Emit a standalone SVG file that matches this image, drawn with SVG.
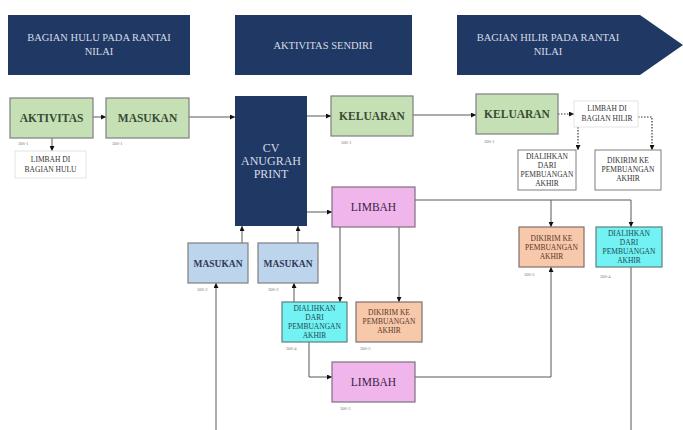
<svg xmlns="http://www.w3.org/2000/svg" width="683" height="430" viewBox="0 0 683 430">
<defs>
<marker id="ah" viewBox="0 0 10 10" refX="10" refY="5" markerWidth="5" markerHeight="5" orient="auto-start-reverse" markerUnits="userSpaceOnUse">
<path d="M0,0 L10,5 L0,10 z" fill="#111"/>
</marker>
</defs>
<style>
text{font-family:"Liberation Serif","Times New Roman",serif;text-anchor:middle}
.ban{fill:#203864}
.bt{fill:#D6DCE5;font-size:10.5px}
.green{fill:#C5E0B4;stroke:#7F7F7F;stroke-width:1.2}
.gt{fill:#3A4A34;font-size:11.5px;font-weight:bold}
.pink{fill:#F0B5EA;stroke:#7F6F7F;stroke-width:1.2}
.pt{fill:#3A1F45;font-size:11.5px}
.blue{fill:#BCD4EC;stroke:#7F7F7F;stroke-width:1.2}
.blt{fill:#2F3A55;font-size:9.5px;font-weight:bold}
.cyan{fill:#72F2F2;stroke:#5F7F7F;stroke-width:1.2}
.ct{fill:#1F4A55;font-size:7.5px}
.peach{fill:#F7C8A9;stroke:#7F6F6F;stroke-width:1.2}
.ot{fill:#5A3A2A;font-size:7.5px}
.wf{fill:#fff;stroke:#E4E4E4;stroke-width:1}
.wb{fill:#fff;stroke:#7F7F7F;stroke-width:1}
.wt{fill:#333;font-size:7.5px}
.lbl{fill:#777;font-size:4.5px;text-anchor:start}
.cv{fill:#D6DCE5;font-size:12px}
.ln{fill:none;stroke:#595959;stroke-width:1}
.dot{fill:none;stroke:#333;stroke-width:1.2;stroke-dasharray:1.5 1.5}
</style>

<g id="banner-hulu">
<rect class="ban" x="8" y="15" width="182" height="60"/>
<text class="bt" x="99" y="41">BAGIAN HULU PADA RANTAI</text>
<text class="bt" x="99" y="55">NILAI</text>
</g>
<g id="banner-sendiri">
<rect class="ban" x="235" y="15" width="177" height="60"/>
<text class="bt" x="323" y="49">AKTIVITAS SENDIRI</text>
</g>
<g id="banner-hilir">
<path class="ban" d="M457,15 H640 L683,45 L640,75 H457 z"/>
<text class="bt" x="548" y="41">BAGIAN HILIR PADA RANTAI</text>
<text class="bt" x="548" y="55">NILAI</text>
</g>

<g id="connectors">
<path class="ln" d="M93,117 H106" marker-end="url(#ah)"/>
<path class="ln" d="M189,117 H235" marker-end="url(#ah)"/>
<path class="ln" d="M52,138 V151" marker-end="url(#ah)"/>
<path class="ln" d="M307,116 H331" marker-end="url(#ah)"/>
<path class="ln" d="M413,115 H476" marker-end="url(#ah)"/>
<path class="ln" d="M307,212 H332" marker-end="url(#ah)"/>
<path class="ln" d="M242,243 V226" marker-end="url(#ah)"/>
<path class="ln" d="M298,243 V226" marker-end="url(#ah)"/>
<path class="ln" d="M216,430 V283" marker-end="url(#ah)"/>
<path class="ln" d="M294,302 V283" marker-end="url(#ah)"/>
<path class="ln" d="M340,227 V302" marker-end="url(#ah)"/>
<path class="ln" d="M399,227 V302" marker-end="url(#ah)"/>
<path class="ln" d="M309,342 V377 H332" marker-end="url(#ah)"/>
<path class="ln" d="M415,200 H631 V227" marker-end="url(#ah)"/>
<path class="ln" d="M551,200 V227" marker-end="url(#ah)"/>
<path class="ln" d="M415,377 H551 V267" marker-end="url(#ah)"/>
<path class="ln" d="M631,267 V430"/>
<path class="dot" d="M558,114 H574" marker-end="url(#ah)"/>
<path class="dot" d="M578,118 V150" marker-end="url(#ah)"/>
<path class="dot" d="M638,117 H652 V150" marker-end="url(#ah)"/>
</g>

<g id="aktivitas">
<rect class="green" x="10" y="98" width="83" height="40"/>
<text class="gt" x="51.5" y="122">AKTIVITAS</text>
<text class="lbl" x="18" y="145">306-1</text>
</g>
<g id="masukan-1">
<rect class="green" x="106" y="98" width="83" height="40"/>
<text class="gt" x="147.5" y="122">MASUKAN</text>
<text class="lbl" x="112" y="145">306-1</text>
</g>
<g id="limbah-hulu">
<rect class="wf" x="15" y="151" width="71" height="27"/>
<text class="wt" x="50.5" y="162">LIMBAH DI</text>
<text class="wt" x="50.5" y="172">BAGIAN HULU</text>
</g>
<g id="cv">
<rect class="ban" x="235" y="96" width="72" height="130"/>
<text class="cv" x="271" y="152">CV</text>
<text class="cv" x="271" y="165">ANUGRAH</text>
<text class="cv" x="271" y="178">PRINT</text>
</g>
<g id="keluaran-1">
<rect class="green" x="331" y="96" width="82" height="40"/>
<text class="gt" x="372" y="120">KELUARAN</text>
<text class="lbl" x="341" y="144">306-1</text>
</g>
<g id="keluaran-2">
<rect class="green" x="476" y="94" width="82" height="40"/>
<text class="gt" x="517" y="118">KELUARAN</text>
<text class="lbl" x="484" y="143">306-1</text>
</g>
<g id="limbah-hilir">
<rect class="wf" x="574" y="101" width="64" height="26"/>
<text class="wt" x="607" y="111">LIMBAH DI</text>
<text class="wt" x="607" y="121">BAGIAN HILIR</text>
</g>
<g id="dialihkan-hilir">
<rect class="wb" x="518" y="150" width="58" height="40"/>
<text class="wt" x="547" y="159">DIALIHKAN</text>
<text class="wt" x="547" y="168">DARI</text>
<text class="wt" x="547" y="177">PEMBUANGAN</text>
<text class="wt" x="547" y="186">AKHIR</text>
</g>
<g id="dikirim-hilir">
<rect class="wb" x="595" y="150" width="66" height="40"/>
<text class="wt" x="628" y="163">DIKIRIM KE</text>
<text class="wt" x="628" y="172">PEMBUANGAN</text>
<text class="wt" x="628" y="181">AKHIR</text>
</g>
<g id="limbah-1">
<rect class="pink" x="332" y="187" width="83" height="40"/>
<text class="pt" x="373.5" y="211">LIMBAH</text>
</g>
<g id="masukan-2">
<rect class="blue" x="188" y="243" width="60" height="40"/>
<text class="blt" x="218" y="266.5">MASUKAN</text>
<text class="lbl" x="197" y="291">306-2</text>
</g>
<g id="masukan-3">
<rect class="blue" x="258" y="243" width="60" height="40"/>
<text class="blt" x="288" y="266.5">MASUKAN</text>
<text class="lbl" x="268" y="291">306-2</text>
</g>
<g id="dialihkan-1">
<rect class="cyan" x="282" y="302" width="65" height="40"/>
<text class="ct" x="314.5" y="311">DIALIHKAN</text>
<text class="ct" x="314.5" y="320">DARI</text>
<text class="ct" x="314.5" y="329">PEMBUANGAN</text>
<text class="ct" x="314.5" y="338">AKHIR</text>
<text class="lbl" x="286" y="350">306-4</text>
</g>
<g id="dikirim-1">
<rect class="peach" x="356" y="302" width="66" height="40"/>
<text class="ot" x="389" y="315">DIKIRIM KE</text>
<text class="ot" x="389" y="324">PEMBUANGAN</text>
<text class="ot" x="389" y="333">AKHIR</text>
<text class="lbl" x="360" y="350">306-5</text>
</g>
<g id="limbah-2">
<rect class="pink" x="332" y="362" width="83" height="40"/>
<text class="pt" x="373.5" y="386">LIMBAH</text>
<text class="lbl" x="340" y="410">306-3</text>
</g>
<g id="dikirim-2">
<rect class="peach" x="519" y="227" width="65" height="40"/>
<text class="ot" x="551.5" y="241">DIKIRIM KE</text>
<text class="ot" x="551.5" y="250">PEMBUANGAN</text>
<text class="ot" x="551.5" y="259">AKHIR</text>
<text class="lbl" x="524" y="276">306-5</text>
</g>
<g id="dialihkan-2">
<rect class="cyan" x="596" y="227" width="66" height="40"/>
<text class="ct" x="629" y="236">DIALIHKAN</text>
<text class="ct" x="629" y="245">DARI</text>
<text class="ct" x="629" y="254">PEMBUANGAN</text>
<text class="ct" x="629" y="263">AKHIR</text>
<text class="lbl" x="600" y="278">306-4</text>
</g>
</svg>
